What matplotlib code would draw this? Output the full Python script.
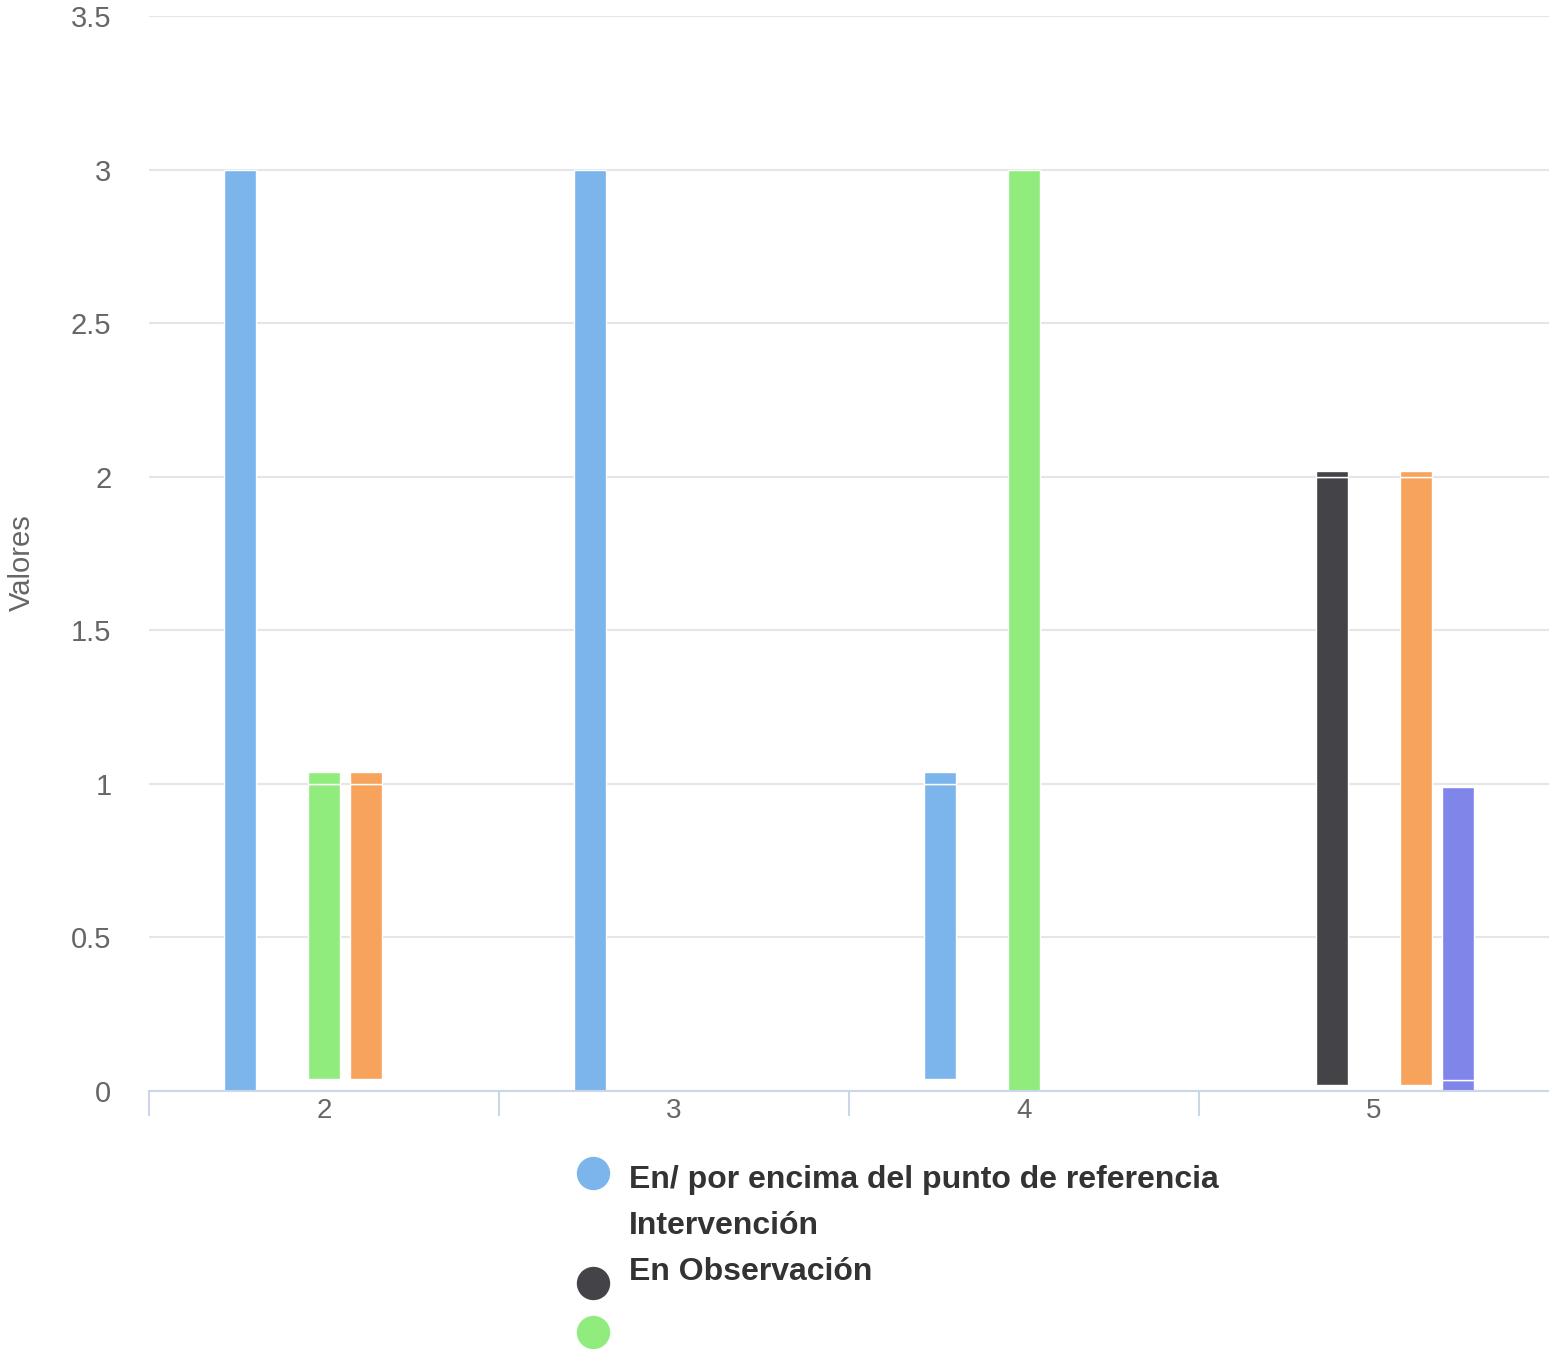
import matplotlib
matplotlib.use("Agg")
import matplotlib.pyplot as plt
from matplotlib.lines import Line2D

plt.rcParams['font.family'] = ['Liberation Sans', 'DejaVu Sans']

# Data
categories = ["2", "3", "4", "5"]
series_names = ["En/ por encima del punto de referencia", "Intervención", "En Observación", "Serie 4", "Serie 5"]
colors = ["#7cb5ec", "#434348", "#90ed7d", "#f7a35c", "#8085e9"]

# each bar is drawn as two stacked pieces starting at 'start'
start = [
    [0, 0, 0.04, 0],
    [0, 0, 0, 0.02],
    [0.04, 0, 0, 0],
    [0.04, 0, 0, 0.02],
    [0, 0, 0, 0],
]
seg1 = [
    [3, 3, 0.96, 0],
    [0, 0, 0, 1.98],
    [0.96, 0, 3, 0],
    [0.96, 0, 0, 1.98],
    [0, 0, 0, 0.036],
]
seg2 = [
    [0, 0, 0.04, 0],
    [0, 0, 0, 0.02],
    [0.04, 0, 0, 0],
    [0.04, 0, 0, 0.02],
    [0, 0, 0, 0.954],
]

legend_labels = ["En/ por encima del punto de referencia", "Intervención", "En Observación"]
legend_marker_colors = ["#7cb5ec", "#434348", "#90ed7d"]

W, H = 1549, 1349
fig = plt.figure(figsize=(W / 100, H / 100), dpi=100, facecolor='white')
ax = fig.add_axes([149 / W, 1 - 1091 / H, 1 - 149 / W, (1091 - 16) / H])

slot = 0.12
width = 0.092
for k in range(len(series_names)):
    xs = [i + (k - 2) * slot for i in range(len(categories))]
    for i, x in enumerate(xs):
        if seg1[k][i] > 0:
            ax.bar(x, seg1[k][i], width, bottom=start[k][i], color=colors[k],
                   edgecolor='white', linewidth=1, zorder=3)
        if seg2[k][i] > 0:
            ax.bar(x, seg2[k][i], width, bottom=start[k][i] + seg1[k][i], color=colors[k],
                   edgecolor='white', linewidth=1, zorder=3)

ax.set_xlim(-0.5, len(categories) - 0.5)
ax.set_ylim(0, 3.5)
ax.set_yticks([0, 0.5, 1, 1.5, 2, 2.5, 3, 3.5])
ax.set_yticklabels(["0", "0.5", "1", "1.5", "2", "2.5", "3", "3.5"])
ax.grid(axis='y', color='#e6e6e6', linewidth=1.5, zorder=0)
ax.set_axisbelow(True)

# category boundaries as ticks, labels on minor ticks
ax.set_xticks([-0.5, 0.5, 1.5, 2.5])
ax.set_xticklabels([])
ax.set_xticks(range(len(categories)), minor=True)
ax.set_xticklabels(categories, minor=True)
ax.tick_params(axis='x', which='major', length=18, width=1.5, color='#ccd6eb')
ax.tick_params(axis='x', which='minor', length=0, pad=5, labelsize=20, labelcolor='#666666')
ax.tick_params(axis='y', length=0, pad=27, labelsize=21, labelcolor='#666666')

for s in ['top', 'right', 'left']:
    ax.spines[s].set_visible(False)
ax.spines['bottom'].set_color('#ccd6eb')
ax.spines['bottom'].set_linewidth(1.5)
ax.spines['bottom'].set_zorder(4)

fig.text(22 / W, 1 - 563 / H, "Valores", rotation=90, ha='center', va='center',
         fontsize=21, color='#666666')

# legend drawn by hand to keep its layout
marker_y = [1173, 1283, 1332]
for c, y in zip(legend_marker_colors, marker_y):
    fig.add_artist(Line2D([593 / W], [1 - y / H], marker='o', markersize=23,
                          color=c, linestyle='none', transform=fig.transFigure))
text_y = [1188, 1234, 1280]
for lab, y in zip(legend_labels, text_y):
    fig.text(629 / W, 1 - y / H, lab, ha='left', va='baseline', fontsize=23,
             fontweight='bold', color='#333333')

fig.savefig("out.png", dpi=100, facecolor='white')
